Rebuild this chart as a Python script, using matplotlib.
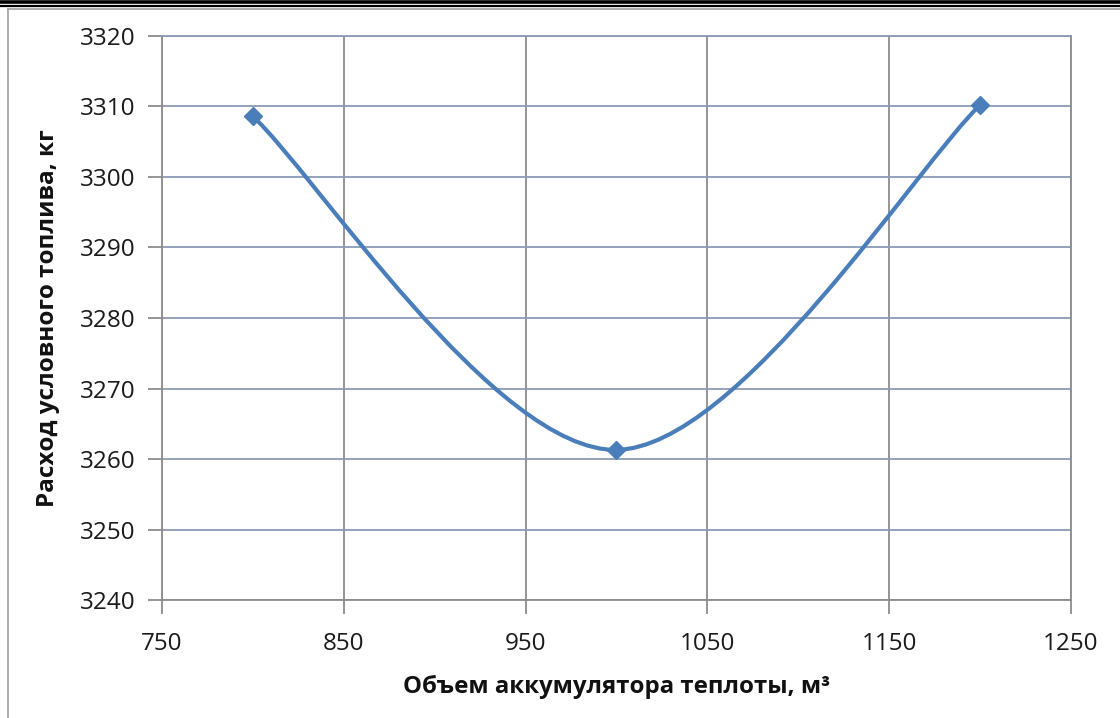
import matplotlib.pyplot as plt
from matplotlib.path import Path
from matplotlib.patches import PathPatch
from matplotlib.lines import Line2D
import numpy as np

# data
volume = [800, 1000, 1200]
fuel = [3308.6, 3261.3, 3310.2]
x_ticks = [750, 850, 950, 1050, 1150, 1250]
y_ticks = [3240, 3250, 3260, 3270, 3280, 3290, 3300, 3310, 3320]

line_col = '#4A7EBB'
grid_col = '#8C8C8C'
hgrid_col = '#8A9BB5'

plt.rcParams['font.family'] = ['Open Sans', 'DejaVu Sans']

fig = plt.figure(figsize=(11.2, 7.18), dpi=100)
ax = fig.add_axes([0.1446, 0.1643, 0.8116, 0.7856])

# smoothed line (Excel-like bezier through the points)
pts = np.column_stack([volume, fuel]).astype(float)
n = len(pts)
verts = [pts[0]]
codes = [Path.MOVETO]
for i in range(n - 1):
    p_prev = pts[max(i - 1, 0)]
    p0 = pts[i]
    p1 = pts[i + 1]
    p_next = pts[min(i + 2, n - 1)]
    c1 = p0 + (p1 - p_prev) / 6.0
    c2 = p1 - (p_next - p0) / 6.0
    verts += [c1, c2, p1]
    codes += [Path.CURVE4] * 3
ax.add_patch(PathPatch(Path(verts, codes), facecolor='none', edgecolor=line_col,
                       lw=3.0, capstyle='round', joinstyle='round', zorder=3))
ax.plot(volume, fuel, 'D', color=line_col, markersize=9, zorder=4)

ax.set_xlim(750, 1250)
ax.set_ylim(3240, 3320)
ax.set_xticks(x_ticks)
ax.set_yticks(y_ticks)
ax.grid(axis='x', color=grid_col, lw=1.3)
ax.grid(axis='y', color=hgrid_col, lw=1.3)
ax.set_axisbelow(True)
for s in ax.spines.values():
    s.set_color(grid_col)
    s.set_linewidth(1.3)
ax.spines['top'].set_color(hgrid_col)
ax.tick_params(axis='both', length=10, width=1.3, color=grid_col,
               labelsize=17.5, labelcolor='#1a1a1a')
ax.tick_params(axis='y', pad=9)
ax.tick_params(axis='x', pad=13)

ax.set_xlabel('Объем аккумулятора теплоты, м³', fontsize=17.3,
              fontweight='bold', labelpad=14, color='#111111')
ax.set_ylabel('Расход условного топлива, кг', fontsize=17.5,
              fontweight='bold', labelpad=14, color='#111111')

# page borders
W, H = 1120, 718
fig.add_artist(Line2D([0, 1], [1 - 1.5 / H, 1 - 1.5 / H], color='black', lw=2.6,
                      transform=fig.transFigure))
fig.add_artist(Line2D([0, 1], [1 - 5.5 / H, 1 - 5.5 / H], color='black', lw=1.6,
                      transform=fig.transFigure))
fig.add_artist(Line2D([8 / W, 1], [1 - 8.5 / H, 1 - 8.5 / H], color='#A0A0A0', lw=1.2,
                      transform=fig.transFigure))
fig.add_artist(Line2D([8 / W, 8 / W], [0, 1 - 8.5 / H], color='#A0A0A0', lw=1.2,
                      transform=fig.transFigure))

fig.savefig('out.png', dpi=100)
